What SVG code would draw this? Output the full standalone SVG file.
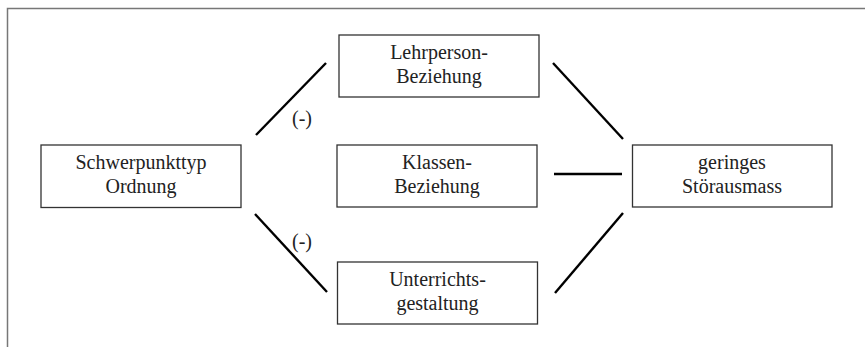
<svg xmlns="http://www.w3.org/2000/svg" width="865" height="347" viewBox="0 0 865 347">
<style>
.box{fill:#fff;stroke:#333;stroke-width:1.3}
.t{font-family:'Liberation Serif','DejaVu Serif',serif;font-size:20px;fill:#222;text-anchor:middle}
.c{stroke:#000;stroke-width:2.4;fill:none}
</style>
<rect width="865" height="347" fill="#fff"/>
<path d="M7.5,347 V8.5 H865" fill="none" stroke="#777" stroke-width="1.5"/>
<g id="connectors">
<line class="c" x1="256" y1="135" x2="326" y2="63"/>
<line class="c" x1="553" y1="63" x2="623" y2="139"/>
<line class="c" x1="554" y1="174" x2="622" y2="174"/>
<line class="c" x1="623" y1="213" x2="555" y2="293"/>
<line class="c" x1="255" y1="214" x2="327" y2="292"/>
<text class="t" x="302" y="125" font-family="Liberation Serif, serif">(-)</text>
<text class="t" x="302" y="248" font-family="Liberation Serif, serif">(-)</text>
</g>
<g id="n-schwerpunkt" font-family="Liberation Serif, serif">
<rect class="box" x="41" y="145" width="200" height="62.5"/>
<text class="t" x="141" y="169">Schwerpunkttyp</text>
<text class="t" x="141" y="193">Ordnung</text>
</g>
<g id="n-lehrperson">
<rect class="box" x="339" y="35" width="200" height="62"/>
<text class="t" x="439" y="59">Lehrperson-</text>
<text class="t" x="439" y="83">Beziehung</text>
</g>
<g id="n-klassen">
<rect class="box" x="337" y="145" width="200" height="62"/>
<text class="t" x="437" y="169">Klassen-</text>
<text class="t" x="437" y="193">Beziehung</text>
</g>
<g id="n-unterricht">
<rect class="box" x="337.5" y="262" width="200" height="62"/>
<text class="t" x="437.5" y="286">Unterrichts-</text>
<text class="t" x="437.5" y="310">gestaltung</text>
</g>
<g id="n-stoer">
<rect class="box" x="632.5" y="145" width="199.5" height="62"/>
<text class="t" x="732" y="169">geringes</text>
<text class="t" x="732" y="193">Störausmass</text>
</g>
</svg>
